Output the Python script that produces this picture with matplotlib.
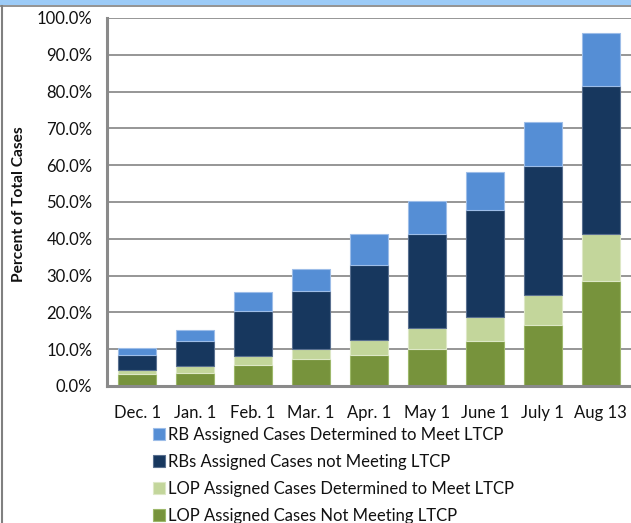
import matplotlib
matplotlib.use("Agg")
import matplotlib.pyplot as plt
from matplotlib.patches import Rectangle
from matplotlib.lines import Line2D
from matplotlib.ticker import PercentFormatter

categories = ["Dec. 1", "Jan. 1", "Feb. 1", "Mar. 1", "Apr. 1", "May 1", "June 1", "July 1", "Aug 13"]
lop_not_meeting = [3.2, 3.6, 5.8, 7.3, 8.5, 10.1, 12.3, 16.7, 28.6]
lop_meet = [1.1, 1.7, 2.3, 2.8, 3.9, 5.6, 6.5, 8.1, 12.6]
rb_not_meeting = [4.2, 6.9, 12.4, 15.8, 20.6, 25.5, 28.9, 34.9, 40.3]
rb_meet = [1.7, 2.9, 5.0, 6.0, 8.2, 9.2, 10.4, 12.0, 14.3]

series_names = [
    "LOP Assigned Cases Not Meeting LTCP",
    "LOP Assigned Cases Determined to Meet LTCP",
    "RBs Assigned Cases not Meeting LTCP",
    "RB Assigned Cases Determined to Meet LTCP",
]
series_values = [lop_not_meeting, lop_meet, rb_not_meeting, rb_meet]
series_colors = ["#77933C", "#C3D69B", "#17375E", "#558ED5"]
edge_colors = ["#9DB86A", "#DDE8C6", "#5A7090", "#9DBDE8"]

FONT = ["Lato", "DejaVu Sans"]
plt.rcParams["font.family"] = FONT

W, H = 631, 523
fig = plt.figure(figsize=(W / 100, H / 100), dpi=100)

# axes placement in pixels
left_px, right_px, top_px, bottom_px = 107, 631, 18, 386
ax = fig.add_axes([left_px / W, 1 - bottom_px / H, (right_px - left_px) / W, (bottom_px - top_px) / H])

x = list(range(len(categories)))
bottom = [0.0] * len(categories)
handles = []
for vals, name, col, ec in zip(series_values, series_names, series_colors, edge_colors):
    b = ax.bar(x, vals, width=0.655, bottom=bottom, color=col, edgecolor=ec,
               linewidth=0.8, label=name, zorder=3)
    handles.append(b)
    bottom = [bb + v for bb, v in zip(bottom, vals)]

ax.set_ylim(0, 100)
ax.set_xlim(-0.52, 8.52)
ax.set_yticks(range(0, 101, 10))
ax.yaxis.set_major_formatter(PercentFormatter(100, decimals=1))
ax.set_xticks(x)
ax.set_xticklabels(categories)
ax.tick_params(axis="both", length=0, labelsize=12, colors="#111111")
ax.tick_params(axis="y", pad=10.5)
ax.tick_params(axis="x", pad=13.5)
ax.yaxis.grid(True, color="#8E8E8E", linewidth=1.3, zorder=0)
ax.set_axisbelow(True)
for s in ["top", "right"]:
    ax.spines[s].set_visible(False)
for s in ["left", "bottom"]:
    ax.spines[s].set_color("#8A8A8A")
    ax.spines[s].set_linewidth(2.2)
    ax.spines[s].set_zorder(4)

fig.text(19 / W, 1 - 204 / H, "Percent of Total Cases", rotation=90, ha="center", va="center",
         fontsize=11.2, fontweight="bold", color="#111111")

# legend (reverse order, top series first)
leg = fig.legend(handles[::-1], series_names[::-1], loc="upper left",
                 bbox_to_anchor=(153 / W, 1 - 427 / H), frameon=False,
                 fontsize=12, handlelength=0.72, handleheight=0.72,
                 handletextpad=0.2, labelspacing=0.66, borderpad=0, borderaxespad=0)
for t in leg.get_texts():
    t.set_color("#111111")

# frame: top blue band and left border
fig.patches.append(Rectangle((0, 1 - 5 / H), 1, 5 / H, transform=fig.transFigure,
                             facecolor="#9CCBF7", edgecolor="none", zorder=0))
fig.lines.append(Line2D([0, 1], [1 - 5.5 / H, 1 - 5.5 / H], transform=fig.transFigure,
                        color="#808080", linewidth=1.2))
fig.lines.append(Line2D([2 / W, 2 / W], [0, 1 - 5.5 / H], transform=fig.transFigure,
                        color="#808080", linewidth=1.5))

fig.savefig("out.png", dpi=100)
